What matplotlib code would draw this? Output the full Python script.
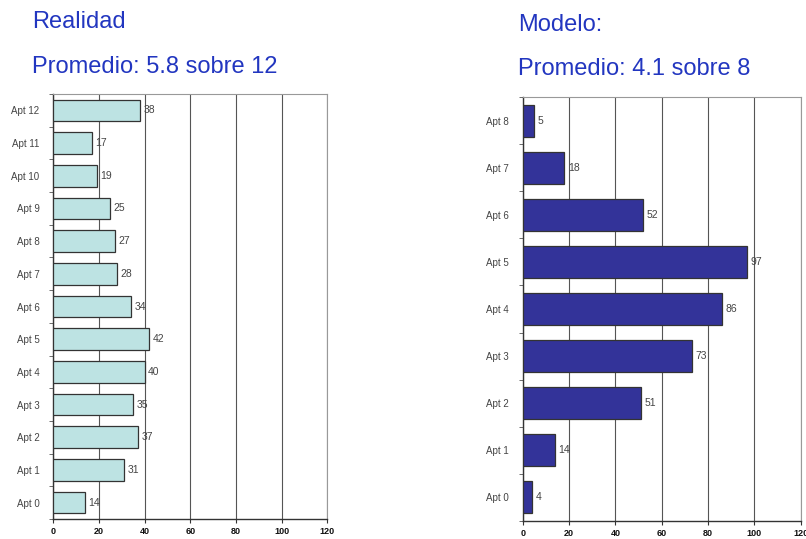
import numpy as np
import matplotlib
matplotlib.use("Agg")
import matplotlib.pyplot as plt

plt.rcParams['font.family'] = ['Liberation Sans', 'DejaVu Sans']

# datos
real_labels = ["Apt %d" % i for i in range(13)]
real_values = [14, 31, 37, 35, 40, 42, 34, 28, 27, 25, 19, 17, 38]
model_labels = ["Apt %d" % i for i in range(9)]
model_values = [4, 14, 51, 73, 86, 97, 52, 18, 5]
x_ticks = [0, 20, 40, 60, 80, 100, 120]

title_color = "#2236c0"

fig = plt.figure(figsize=(8.06, 5.39), dpi=100)


def draw_panel(ax, labels, values, color, bar_h):
    pos = np.arange(len(values))
    ax.barh(pos, values, height=bar_h, color=color, edgecolor="#333333",
            linewidth=0.9, zorder=3)
    for p, v in zip(pos, values):
        ax.text(v + 1.5, p, str(v), va="center", ha="left",
                fontsize=7.5, color="#444444", zorder=4)
    ax.set_xlim(0, 120)
    ax.set_ylim(-0.5, len(values) - 0.5)
    ax.set_xticks(x_ticks)
    ax.set_xticklabels([str(t) for t in x_ticks], fontsize=6.5,
                       fontweight="bold", color="#111111")
    ax.set_yticks(pos)
    ax.set_yticklabels(labels, fontsize=7, color="#444444")
    ax.set_yticks(np.arange(len(values) + 1) - 0.5, minor=True)
    ax.tick_params(axis="y", which="major", length=0, pad=10)
    ax.tick_params(axis="y", which="minor", length=3, color="#555555")
    ax.tick_params(axis="x", length=3, color="#333333", pad=3)
    ax.xaxis.grid(True, color="#555555", linewidth=0.8, zorder=0)
    ax.set_axisbelow(True)
    for s in ["top", "right"]:
        ax.spines[s].set_color("#999999")
        ax.spines[s].set_linewidth(0.8)
    for s in ["left", "bottom"]:
        ax.spines[s].set_color("#333333")
        ax.spines[s].set_linewidth(1.0)


ax1 = fig.add_axes([0.0661, 0.0371, 0.3402, 0.7885])
draw_panel(ax1, real_labels, real_values, "#bde3e3", 0.66)

ax2 = fig.add_axes([0.6485, 0.0334, 0.3449, 0.7866])
draw_panel(ax2, model_labels, model_values, "#333399", 0.68)

fig.text(32 / 806, 1 - 22 / 539, "Realidad", fontsize=17, color=title_color,
         va="center", ha="left")
fig.text(32 / 806, 1 - 67 / 539, "Promedio: 5.8 sobre 12", fontsize=17,
         color=title_color, va="center", ha="left")
fig.text(518 / 806, 1 - 25 / 539, "Modelo:", fontsize=17, color=title_color,
         va="center", ha="left")
fig.text(518 / 806, 1 - 69 / 539, "Promedio: 4.1 sobre 8", fontsize=17,
         color=title_color, va="center", ha="left")

fig.savefig("out.png", dpi=100)
